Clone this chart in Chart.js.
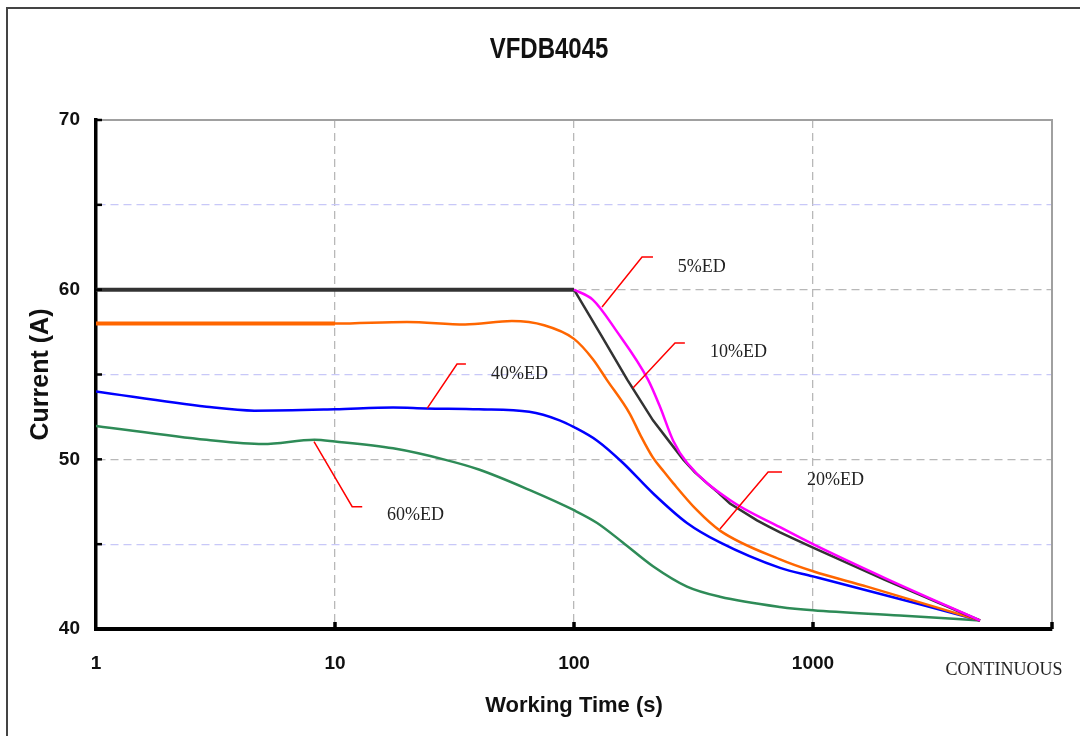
<!DOCTYPE html>
<html>
<head>
<meta charset="utf-8">
<title>VFDB4045</title>
<script src="https://cdn.jsdelivr.net/npm/chart.js@4.4.1/dist/chart.umd.min.js"></script>
<style>
  html, body { margin: 0; padding: 0; background: #fff; }
</style>
</head>
<body>
<canvas id="chart" width="1080" height="736"></canvas>
<script>
// working time (s) and current (A)
const time5 = [100, 120, 150, 204, 229, 260, 297, 449, 728, 1000, 2000, 5000];
const cur5 = [60, 59.4, 57.6, 54.7, 53.1, 51.1, 49.8, 47.6, 46.0, 45.0, 43.0, 40.5];

const time10 = [1, 100, 130, 167, 214, 252, 286, 320, 360, 400, 449, 583, 650, 728, 850, 1000, 2000, 5000];
const cur10 = [60, 60, 57.3, 54.7, 52.3, 51.0, 50.0, 49.25, 48.6, 48.05, 47.4, 46.4, 46.05, 45.7, 45.25, 44.8, 42.9, 40.5];

const time20 = [1, 10, 20, 35, 55, 75, 100, 120, 137, 171, 190, 214, 237, 260, 327, 408, 728, 1000, 1683, 5000];
const cur20 = [58, 58, 58.1, 57.95, 58.15, 57.9, 57.1, 55.9, 54.7, 52.7, 51.4, 50.1, 49.3, 48.6, 47.0, 45.8, 44.1, 43.4, 42.5, 40.5];

const time40 = [1, 2.9, 4.6, 10, 17.5, 24, 40, 65, 87, 100, 125, 160, 214, 297, 408, 728, 1000, 2723, 5000];
const cur40 = [54, 53.1, 52.87, 52.95, 53.05, 53.0, 52.95, 52.8, 52.3, 51.9, 51.1, 49.8, 48.0, 46.25, 45.1, 43.6, 43.1, 41.5, 40.5];

const time60 = [1, 2.9, 5.0, 8.2, 10, 17.5, 29, 40, 65, 100, 125, 160, 214, 297, 408, 728, 1000, 2311, 5000];
const cur60 = [51.97, 51.15, 50.9, 51.15, 51.05, 50.65, 49.97, 49.4, 48.2, 47.0, 46.25, 45.1, 43.7, 42.5, 41.9, 41.3, 41.1, 40.8, 40.5];

const xTicks = [1, 10, 100, 1000, 10000];
const xTickLabels = ['1', '10', '100', '1000', ''];
const yLabelled = [40, 50, 60, 70];

// callout texts and their leader lines (in data units)
const edLabels = ['5%ED', '10%ED', '20%ED', '40%ED', '60%ED'];
const leaderX = [[131, 192.6, 214], [176.5, 264.6, 291], [408, 649, 742], [24.3, 32.4, 35.3], [8.17, 11.8, 13.0]];
const leaderY = [[58.98, 61.93, 61.93], [54.2, 56.86, 56.86], [45.9, 49.25, 49.25], [53.0, 55.62, 55.62], [51.04, 47.21, 47.21]];
const labelX = [272, 370.6, 944, 45, 16.5];
const labelY = [61.34, 56.33, 48.78, 55.03, 46.72];

const sans = "'Liberation Sans', Arial, sans-serif";
const serif = "'Liberation Serif', 'Times New Roman', serif";

const toPoints = (xs, ys) => xs.map((x, i) => ({ x: x, y: ys[i] }));

const extras = {
  id: 'extras',
  beforeDraw(chart) {
    const ctx = chart.ctx;
    ctx.save();
    ctx.fillStyle = '#fff';
    ctx.fillRect(0, 0, chart.width, chart.height);
    ctx.strokeStyle = '#444';
    ctx.lineWidth = 2;
    ctx.beginPath();
    ctx.moveTo(7, chart.height);
    ctx.lineTo(7, 8);
    ctx.lineTo(chart.width, 8);
    ctx.stroke();
    ctx.restore();
  },
  beforeDatasetsDraw(chart) {
    const { ctx, chartArea: a } = chart;
    ctx.save();
    ctx.strokeStyle = '#a0a0a0';
    ctx.lineWidth = 2;
    ctx.beginPath();
    ctx.moveTo(a.left, a.top);
    ctx.lineTo(a.right, a.top);
    ctx.lineTo(a.right, a.bottom);
    ctx.stroke();
    ctx.restore();
  },
  afterDraw(chart) {
    const { ctx, chartArea: a } = chart;
    const xs = chart.scales.x, ys = chart.scales.y;
    ctx.save();

    // little inward tick marks
    ctx.strokeStyle = '#000';
    ctx.lineWidth = 2.5;
    [45, 50, 55, 60, 65, 70].forEach(v => {
      const y = ys.getPixelForValue(v);
      ctx.beginPath();
      ctx.moveTo(a.left, y);
      ctx.lineTo(a.left + 6, y);
      ctx.stroke();
    });
    ctx.lineWidth = 3.5;
    [10, 100, 1000, 10000].forEach(v => {
      const x = xs.getPixelForValue(v);
      ctx.beginPath();
      ctx.moveTo(x, a.bottom);
      ctx.lineTo(x, a.bottom - 7);
      ctx.stroke();
    });

    // leader lines + labels
    ctx.strokeStyle = '#ff0000';
    ctx.lineWidth = 1.5;
    ctx.fillStyle = '#222';
    ctx.font = '18px ' + serif;
    ctx.textAlign = 'left';
    ctx.textBaseline = 'middle';
    edLabels.forEach((txt, i) => {
      ctx.beginPath();
      leaderX[i].forEach((xv, j) => {
        const px = xs.getPixelForValue(xv), py = ys.getPixelForValue(leaderY[i][j]);
        if (j === 0) ctx.moveTo(px, py); else ctx.lineTo(px, py);
      });
      ctx.stroke();
      ctx.fillText(txt, xs.getPixelForValue(labelX[i]), ys.getPixelForValue(labelY[i]));
    });

    // CONTINUOUS under the right end
    ctx.textAlign = 'center';
    ctx.fillText('CONTINUOUS', xs.getPixelForValue(6300), a.bottom + 41);

    // title, squeezed a bit like the original
    ctx.font = 'bold 30px ' + sans;
    ctx.fillStyle = '#111';
    ctx.translate((a.left + a.right) / 2 - 25, 50);
    ctx.scale(0.8, 1);
    ctx.fillText('VFDB4045', 0, 0);
    ctx.restore();
  }
};

new Chart(document.getElementById('chart'), {
  type: 'line',
  data: {
    datasets: [
      {
        label: '5%ED',
        data: toPoints(time5, cur5),
        borderColor: '#ff00ff',
        borderWidth: 2.5
      },
      {
        label: '10%ED',
        data: toPoints(time10, cur10),
        borderColor: '#333333',
        borderWidth: 2.5,
        cubicInterpolationMode: 'default',
        tension: 0,
        segment: { borderWidth: c => c.p1.parsed.x <= 100 ? 4 : 2.5 }
      },
      {
        label: '20%ED',
        data: toPoints(time20, cur20),
        borderColor: '#ff6600',
        borderWidth: 2.5,
        segment: { borderWidth: c => c.p1.parsed.x <= 10 ? 4 : 2.5 }
      },
      {
        label: '40%ED',
        data: toPoints(time40, cur40),
        borderColor: '#0000ff',
        borderWidth: 2.5
      },
      {
        label: '60%ED',
        data: toPoints(time60, cur60),
        borderColor: '#2e8b57',
        borderWidth: 2.5
      }
    ]
  },
  options: {
    responsive: false,
    animation: false,
    cubicInterpolationMode: 'monotone',
    elements: { point: { radius: 0 } },
    layout: { padding: { top: 120, right: 28, left: 0, bottom: 0 } },
    plugins: {
      legend: { display: false },
      tooltip: { enabled: false }
    },
    scales: {
      x: {
        type: 'logarithmic',
        min: 1,
        max: 10000,
        afterBuildTicks: scale => { scale.ticks = xTicks.map(v => ({ value: v })); },
        afterFit: scale => { scale.height = 107; },
        ticks: {
          autoSkip: false,
          maxRotation: 0,
          padding: 23,
          color: '#111',
          font: { family: sans, size: 19, weight: 'bold' },
          callback: value => {
            const i = xTicks.indexOf(value);
            return i >= 0 ? xTickLabels[i] : '';
          }
        },
        grid: {
          drawTicks: false,
          lineWidth: 1.3,
          color: c => (c.tick && [10, 100, 1000].includes(c.tick.value)) ? '#b8b8b8' : 'rgba(0,0,0,0)'
        },
        border: { color: '#000', width: 4, dash: [8, 5] },
        title: {
          display: true,
          text: 'Working Time (s)',
          color: '#111',
          font: { family: sans, size: 22, weight: 'bold' },
          padding: { top: 0, bottom: 17 }
        }
      },
      y: {
        min: 40,
        max: 70,
        afterFit: scale => { scale.width = 96; },
        ticks: {
          stepSize: 5,
          padding: 16,
          color: '#111',
          font: { family: sans, size: 19, weight: 'bold' },
          callback: value => yLabelled.includes(value) ? String(value) : ''
        },
        grid: {
          drawTicks: false,
          lineWidth: 1.3,
          color: c => {
            const v = c.tick && c.tick.value;
            if (v === 45 || v === 55 || v === 65) return '#c8c8f8';
            if (v === 50 || v === 60) return '#b8b8b8';
            return 'rgba(0,0,0,0)';
          }
        },
        border: { color: '#000', width: 3.5, dash: [8, 5] },
        title: {
          display: true,
          text: 'Current (A)',
          color: '#111',
          font: { family: sans, size: 25, weight: 'bold' },
          padding: { top: 26, bottom: 0 }
        }
      }
    }
  },
  plugins: [extras]
});
</script>
</body>
</html>
